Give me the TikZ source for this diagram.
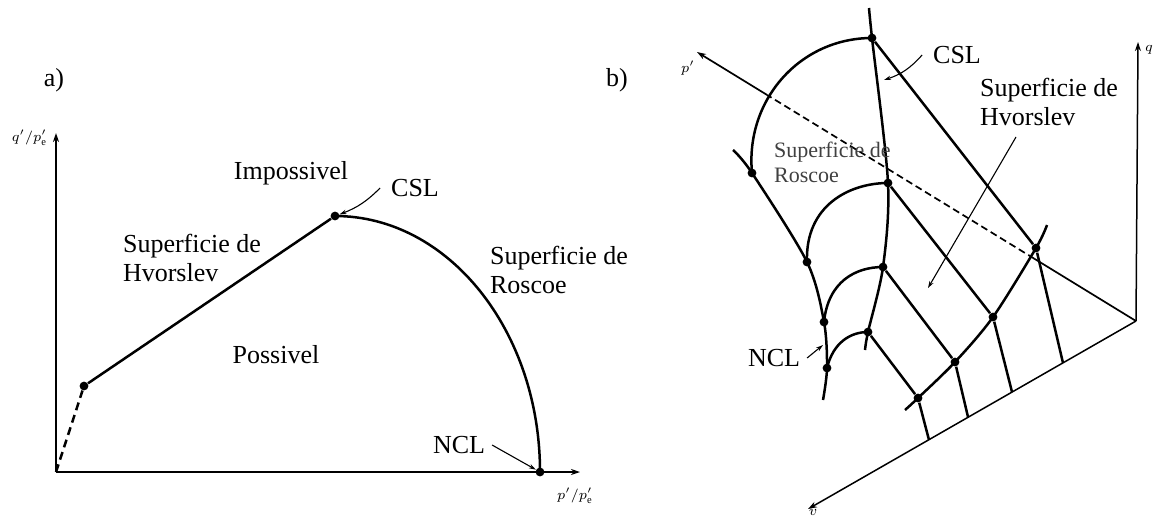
\documentclass[tikz,border=0pt]{standalone}
\usepackage{fontspec}
\setmainfont{Liberation Serif}
\usetikzlibrary{arrows.meta,calc}
\begin{document}
\begin{tikzpicture}[x=0.5pt, y=-0.5pt, >={Stealth[length=4.5pt,width=3pt]},
  font=\fontsize{13}{14.5}\selectfont,
  axis/.style={line width=0.75pt, ->},
  curve/.style={line width=1.25pt},
  dot/.style={circle, fill, inner sep=0pt, minimum size=4.4pt},
  lbl/.style={align=left, anchor=west},
  tag/.style={font=\fontsize{7.5}{8}\selectfont},
  pointer/.style={line width=0.55pt, -{Stealth[length=3.5pt,width=2.2pt]}}]
\useasboundingbox (0,0) rectangle (1155,521);

\coordinate (o) at (56,472);
\coordinate (ya) at (56,133);
\coordinate (xa) at (580,472);
\node[dot] (h) at (84,386) {};
\node[dot] (csl) at (335,216) {};
\node[dot] (ncl) at (540,472) {};
\draw[axis] (o) -- (ya);
\draw[axis] (o) -- (xa);
\draw[curve, dash pattern=on 4pt off 2.5pt] (o) -- (h);
\draw[curve] (h) -- (csl);
\draw[curve] (csl.center) arc[start angle=-90, end angle=0, x radius=205, y radius=256];
\node (la) at (54,80) {a)};
\node (impo) at (291,173) {Impossivel};
\node (poss) at (276,355) {Possivel};
\node[lbl] (hva) at (116,258) {Superficie de\\Hvorslev};
\node[lbl] (roa) at (483,270) {Superficie de\\Roscoe};
\node (csla) at (415,188) {CSL};
\node (ncla) at (459,445) {NCL};
\draw[pointer] ([xshift=-2pt]csla.west) to[bend left=12] (csl);
\draw[pointer] (ncla.east) -- (ncl);
\node[tag, anchor=east] (qa) at (54,138) {$q'/p'_{\mathrm{e}}$};
\node[tag] (pa) at (575,496) {$p'/p'_{\mathrm{e}}$};

\coordinate (c) at (1136,321);
\coordinate (qb) at (1138,42);
\coordinate (vb) at (808,509);
\coordinate (pb) at (697,52);
\coordinate (pd1) at ($(c)!0.232!(pb)$);
\coordinate (pd2) at ($(c)!0.840!(pb)$);
\draw[axis] (c) -- (qb);
\draw[axis] (c) -- (vb);
\draw[line width=0.85pt] (c) -- (pd1);
\draw[line width=0.85pt, dash pattern=on 3.5pt off 2pt] (pd1) -- (pd2);
\draw[axis, line width=0.85pt] (pd2) -- (pb);

\node[dot] (s1) at (872,38) {};
\node[dot] (s2) at (888,183) {};
\node[dot] (s3) at (883,267) {};
\node[dot] (s4) at (868,332) {};
\node[dot] (n1) at (752,173) {};
\node[dot] (n2) at (807,262) {};
\node[dot] (n3) at (824,322) {};
\node[dot] (n4) at (827,368) {};
\node[dot] (t1) at (1036,248) {};
\node[dot] (t2) at (993,317) {};
\node[dot] (t3) at (955,362) {};
\node[dot] (t4) at (918,398) {};
\coordinate (stop) at (869,8);
\coordinate (sbot) at (865,350);
\coordinate (ntop) at (733,150);
\coordinate (nbot) at (823,400);
\coordinate (ttop) at (1047,225);
\coordinate (tbot) at (905,410);
\coordinate (v1) at (1063,363);
\coordinate (v2) at (1012,392);
\coordinate (v3) at (968,417);
\coordinate (v4) at (929,440);

\draw[curve] plot[smooth, tension=0.5] coordinates {(stop) (s1) (s2) (s3) (s4) (sbot)};
\draw[curve] plot[smooth, tension=0.5] coordinates {(ntop) (n1) (n2) (n3) (n4) (nbot)};
\draw[curve] plot[smooth, tension=0.5] coordinates {(tbot) (t4) (t3) (t2) (t1) (ttop)};
\draw[curve] (n1.center) .. controls (745,100) and (800,38) .. (s1.center);
\draw[curve] (n2.center) .. controls (805,205) and (850,183) .. (s2.center);
\draw[curve] (n3.center) .. controls (828,282) and (855,267) .. (s3.center);
\draw[curve] (n4.center) .. controls (833,343) and (850,332) .. (s4.center);
\draw[curve] (s1) -- (t1);
\draw[curve] (s2) -- (t2);
\draw[curve] (s3) -- (t3);
\draw[curve] (s4) -- (t4);
\draw[curve] (t1) -- (v1);
\draw[curve] (t2) -- (v2);
\draw[curve] (t3) -- (v3);
\draw[curve] (t4) -- (v4);

\node (lb) at (617,80) {b)};
\node (cslb) at (957,55) {CSL};
\coordinate (cslp) at (884,80);
\draw[pointer] ([xshift=-2pt]cslb.west) to[bend left=15] (cslp);
\node[lbl] (hvb) at (973,102) {Superficie de\\Hvorslev};
\coordinate (hvs) at (1016,137);
\coordinate (hvp) at (928,288);
\draw[pointer] (hvs) -- (hvp);
\node[lbl, font=\fontsize{11}{12.5}\selectfont, text=black!75] (rob) at (767,162) {Superficie de\\Roscoe};
\node (nclb) at (774,358) {NCL};
\coordinate (nclp) at (823,345);
\draw[pointer] (nclb.east) -- (nclp);
\node[tag] (pl) at (688,68) {$p'$};
\node[tag] (ql) at (1149,50) {$q$};
\node[tag] (vl) at (813,512) {$v$};
\end{tikzpicture}
\end{document}
